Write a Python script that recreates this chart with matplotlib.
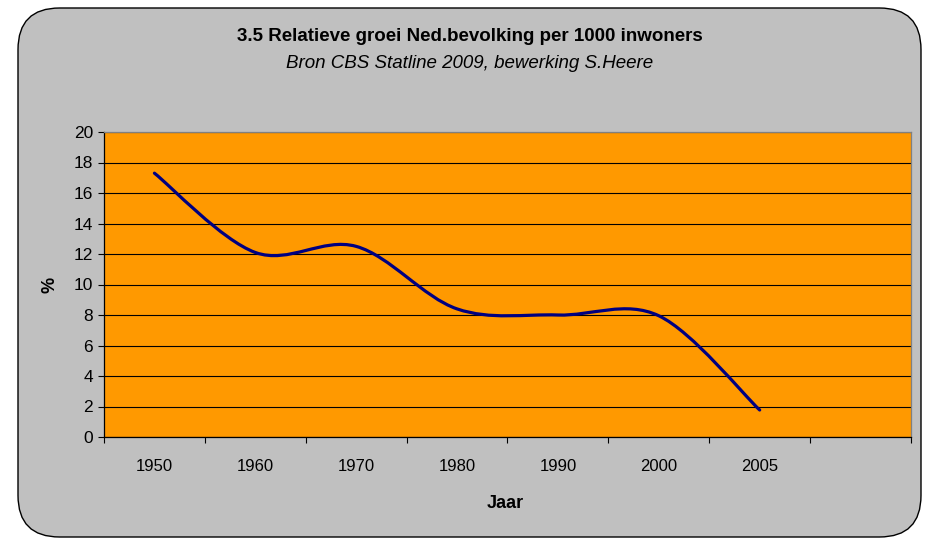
import matplotlib
matplotlib.use("Agg")
import matplotlib.pyplot as plt
from matplotlib.path import Path
from matplotlib.patches import PathPatch, FancyBboxPatch
import numpy as np

plt.rcParams['font.family'] = ['Liberation Sans', 'DejaVu Sans']

# Data
categories = ["1950", "1960", "1970", "1980", "1990", "2000", "2005", ""]
values = [17.3, 12.1, 12.5, 8.4, 8.0, 7.95, 1.77]
y_ticks = [0, 2, 4, 6, 8, 10, 12, 14, 16, 18, 20]

title = "3.5 Relatieve groei Ned.bevolking per 1000 inwoners"
subtitle = "Bron CBS Statline 2009, bewerking S.Heere"
x_label = "Jaar"
y_label = "%"

W, H = 925, 538
fig = plt.figure(figsize=(W / 100, H / 100), dpi=100)
fig.patch.set_facecolor("white")

# rounded chart area
box = FancyBboxPatch((18 / W, 1 / H), (903 / W), (529 / H),
                     boxstyle="round,pad=0,rounding_size=0.045",
                     transform=fig.transFigure, facecolor="#C0C0C0",
                     edgecolor="black", linewidth=1.0, mutation_aspect=W / H,
                     zorder=-5)
fig.patches.append(box)

ax = fig.add_axes([104 / W, 1 - 437 / H, (911 - 104) / W, (437 - 132) / H])
ax.set_zorder(2)
ax.set_facecolor("#FF9900")
n = len(categories)
ax.set_xlim(0, n)
ax.set_ylim(0, 20)

# smoothed line (Catmull-Rom style bezier through data points)
xs = np.arange(len(values)) + 0.5
pts = np.column_stack([xs, values])
verts = [tuple(pts[0])]
codes = [Path.MOVETO]
for i in range(len(pts) - 1):
    p_prev = pts[i - 1] if i > 0 else pts[i]
    p0 = pts[i]
    p1 = pts[i + 1]
    p_next = pts[i + 2] if i + 2 < len(pts) else pts[i + 1]
    c1 = p0 + (p1 - p_prev) / 6.0
    c2 = p1 - (p_next - p0) / 6.0
    verts += [tuple(c1), tuple(c2), tuple(p1)]
    codes += [Path.CURVE4] * 3
ax.add_patch(PathPatch(Path(verts, codes), facecolor="none",
                       edgecolor="#000080", linewidth=2.3, zorder=3,
                       capstyle="round", joinstyle="round"))

ax.set_yticks(y_ticks)
ax.yaxis.grid(True, color="black", linewidth=0.8)
ax.set_axisbelow(True)
ax.tick_params(axis="y", direction="out", length=4, width=0.8, pad=4,
               labelsize=12.5, colors="black")

ax.set_xticks(np.arange(n + 1))
ax.set_xticklabels([])
ax.set_xticks(np.arange(n) + 0.5, minor=True)
ax.set_xticklabels(categories, minor=True)
ax.tick_params(axis="x", which="major", direction="out", length=4, width=0.8)
ax.tick_params(axis="x", which="minor", length=0, pad=16, labelsize=12)

for s in ["left", "bottom"]:
    ax.spines[s].set_color("black")
    ax.spines[s].set_linewidth(0.9)
for s in ["top", "right"]:
    ax.spines[s].set_color("#808080")
    ax.spines[s].set_linewidth(0.9)

fig.text(470 / W, 1 - 37 / H, title, ha="center", va="center",
         fontsize=13.5, fontweight="bold")
fig.text(470 / W, 1 - 64 / H, subtitle, ha="center", va="center",
         fontsize=13.5, fontstyle="italic")
fig.text(505 / W, 1 - 503 / H, x_label, ha="center", va="center",
         fontsize=13, fontweight="bold")
fig.text(50 / W, 1 - 285 / H, y_label, ha="center", va="center",
         fontsize=13, fontweight="bold", rotation=90)

fig.savefig("out.png", dpi=100, facecolor="white")
